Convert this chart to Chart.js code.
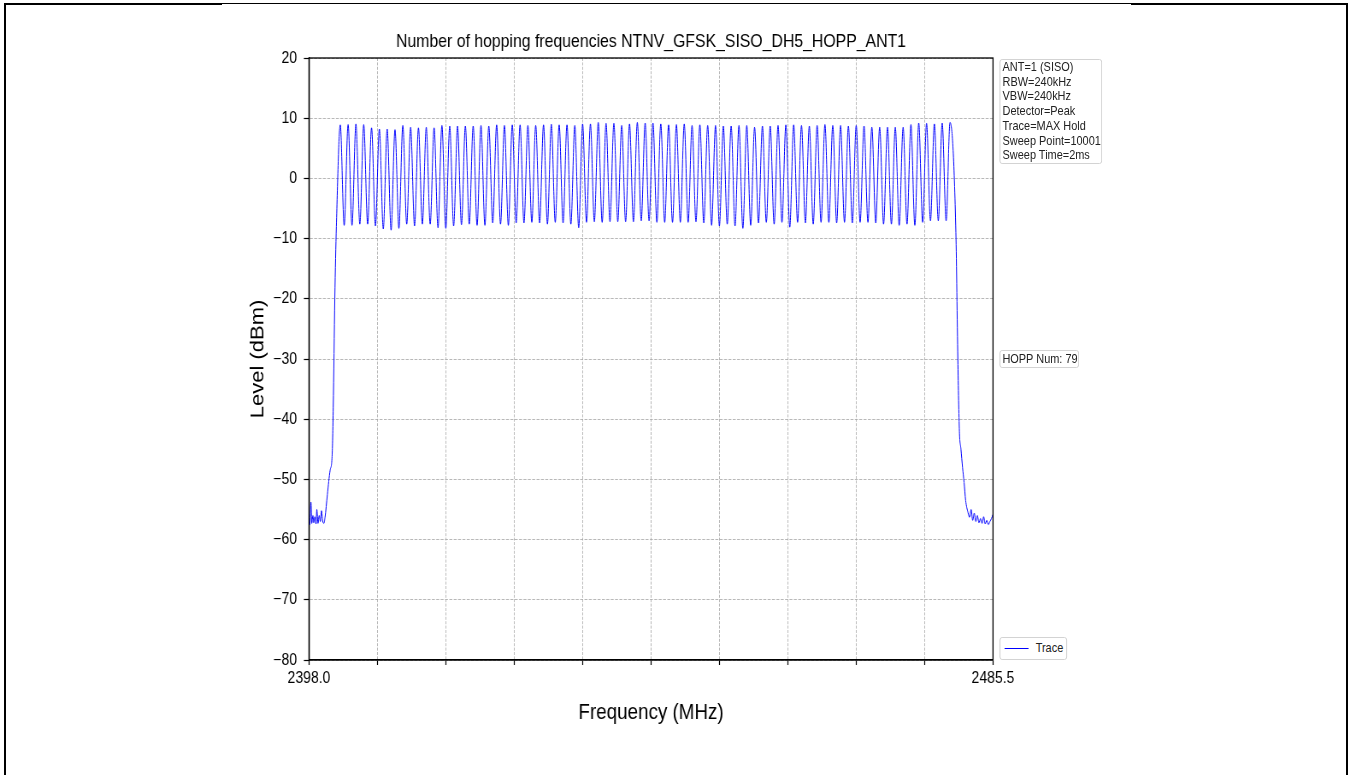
<!DOCTYPE html>
<html>
<head>
<meta charset="utf-8">
<script src="https://cdn.jsdelivr.net/npm/chart.js@4.4.1/dist/chart.umd.min.js"></script>
<style>
  html, body { margin: 0; padding: 0; background: #fff; overflow: hidden; }
  body { width: 1351px; height: 775px; position: relative; font-family: "Liberation Sans", Arial, sans-serif; }
  .rule { position: absolute; background: #000; }
  /* the original picture is squeezed sideways, so the chart is drawn wide and scaled in x */
  #wrap { position: absolute; left: 0; top: 0; width: 1580px; height: 775px; transform: scaleX(0.855); transform-origin: 0 0; }
  #c { position: absolute; left: 0; top: 0; }
  .box { position: absolute; background: #fff; border: 1px solid #cfcfcf; border-radius: 3px; font-size: 12.8px; color: #222; box-sizing: border-box; }
  #info { left: 1168.8px; top: 59px; width: 120px; height: 105px; padding-left: 2.8px; line-height: 14.7px; }
  #hopp { left: 1168.8px; top: 350px; width: 93px; height: 18.3px; padding-left: 2.6px; line-height: 16.3px; }
  #legend { left: 1168.8px; top: 637.3px; width: 79.5px; height: 22.7px; }
  #legend .swatch { position: absolute; left: 5.5px; top: 9.6px; width: 27.3px; height: 1.6px; background: #0000ff; }
  #legend .lbl { position: absolute; left: 41.5px; top: 2px; line-height: 16.3px; }
</style>
</head>
<body>
<div class="rule" style="left:4px;top:2.7px;width:218px;height:2px"></div>
<div class="rule" style="left:222px;top:3.3px;width:909px;height:1px"></div>
<div class="rule" style="left:1131px;top:2.7px;width:217px;height:2px"></div>
<div class="rule" style="left:4px;top:2.7px;width:2.4px;height:773px"></div>
<div class="rule" style="left:1346px;top:2.7px;width:2.4px;height:773px"></div>

<div id="wrap">
  <canvas id="c" width="1580" height="775"></canvas>
  <div class="box" id="info"></div>
  <div class="box" id="hopp"></div>
  <div class="box" id="legend"><span class="swatch"></span><span class="lbl"></span></div>
</div>

<script>
// 
// Chart data
// 
const chartTitle = 'Number of hopping frequencies NTNV_GFSK_SISO_DH5_HOPP_ANT1';
const xTitle = 'Frequency (MHz)';
const yTitle = 'Level (dBm)';
const traceName = 'Trace';
const infoLines = ['ANT=1 (SISO)', 'RBW=240kHz', 'VBW=240kHz', 'Detector=Peak', 'Trace=MAX Hold', 'Sweep Point=10001', 'Sweep Time=2ms'];
const hoppText = 'HOPP Num: 79';

const xMin = 2398.0;
const xMax = 2485.5;
const xTickValues = [2398.0, 2406.75, 2415.5, 2424.25, 2433.0, 2441.75, 2450.5, 2459.25, 2468.0, 2476.75, 2485.5];
const xTickLabels = ['2398.0', '', '', '', '', '', '', '', '', '', '2485.5'];
const yMin = -80;
const yMax = 20;
const yStep = 10;

// noise floor and rising edge below the first channel
const leftFreq = [2398.0, 2398.1, 2398.25, 2398.35, 2398.5, 2398.6, 2398.75, 2398.9, 2399.0, 2399.15, 2399.3, 2399.45, 2399.6, 2399.75, 2399.9, 2400.05, 2400.35, 2400.7, 2400.95, 2401.1, 2401.3, 2401.5];
const leftLevel = [-56.8, -57.5, -53.8, -57.3, -56.0, -57.2, -56.2, -57.4, -55.0, -57.3, -56.0, -57.0, -55.2, -56.9, -57.3, -56.3, -52.5, -48.5, -46.2, -38.0, -20.0, -8.0];

// 79 hopping channels, 1 MHz apart
const channelMHz = Array.from({ length: 79 }, (_, k) => 2402 + k);
const peakLevels = [
  8.9, 8.95, 9.05, 8.95, 8.4, 8.2, 8.2, 8.1, 8.8, 8.5,
  8.4, 8.5, 8.4, 8.8, 8.7, 8.7, 8.7, 8.7, 8.8, 8.7,
  8.9, 8.8, 8.9, 8.9, 8.8, 8.8, 8.9, 9.0, 8.9, 8.9,
  8.8, 9.05, 9.05, 9.3, 9.15, 9.15, 8.8, 9.05, 9.3, 9.2,
  9.2, 9.05, 8.9, 8.95, 9.05, 8.8, 8.9, 8.8, 8.8, 8.7,
  8.7, 8.8, 8.8, 8.5, 8.7, 8.7, 8.8, 8.9, 8.9, 8.8,
  8.7, 8.8, 8.95, 8.8, 8.8, 8.7, 8.8, 8.7, 8.5, 8.5,
  8.5, 8.5, 8.5, 8.95, 9.2, 9.15, 9.05, 9.2, 9.3
];
// minimum between channel k and k+1
const dipLevels = [
  -7.8, -7.8, -7.6, -7.6, -7.9, -8.4, -8.6, -8.3, -7.6, -7.9,
  -7.6, -7.6, -8.2, -8.3, -7.9, -7.7, -7.6, -7.8, -7.8, -7.4,
  -7.6, -7.8, -7.4, -7.4, -7.3, -7.4, -7.6, -7.3, -7.4, -7.6,
  -8.2, -7.3, -7.2, -7.3, -7.2, -7.2, -7.2, -7.2, -7.05,
  -7.05, -7.3, -7.3, -7.3, -7.3, -7.3, -7.2, -7.4, -7.8, -7.9,
  -7.6, -7.9, -8.3, -7.8, -7.4, -7.3, -7.6, -7.3, -8.1, -7.3,
  -7.4, -7.6, -7.3, -7.3, -7.4, -7.3, -7.4, -7.3, -7.3, -7.4,
  -7.6, -7.6, -7.8, -7.6, -7.8, -7.3, -7.05, -7.05, -7.05
];

// falling edge and noise floor above the last channel
const rightFreq = [2480.75, 2481.0, 2481.2, 2481.4, 2481.6, 2481.8, 2482.0, 2482.3, 2482.5, 2482.7, 2482.9, 2483.1, 2483.3, 2483.5, 2483.7, 2483.9, 2484.1, 2484.3, 2484.5, 2484.7, 2484.9, 2485.1, 2485.3, 2485.5];
const rightLevel = [-9.0, -30.0, -42.0, -45.0, -48.0, -50.5, -53.5, -55.5, -56.3, -55.0, -56.8, -55.6, -57.0, -56.0, -57.2, -56.5, -57.3, -56.2, -57.4, -56.8, -57.5, -57.0, -56.5, -55.8];

// 
// Build the trace
// 
const tracePoints = [];
leftFreq.forEach((f, i) => tracePoints.push({ x: f, y: leftLevel[i] }));
channelMHz.forEach((f, i) => {
  tracePoints.push({ x: f, y: peakLevels[i] });
  if (i < dipLevels.length) tracePoints.push({ x: f + 0.5, y: dipLevels[i] });
});
rightFreq.forEach((f, i) => tracePoints.push({ x: f, y: rightLevel[i] }));

document.getElementById('info').innerHTML = infoLines.join('<br>');
document.getElementById('hopp').textContent = hoppText;
document.querySelector('#legend .lbl').textContent = traceName;

const fontFamily = '"Liberation Sans", Arial, sans-serif';

// black box round the plot area, drawn over the trace
const framePlugin = {
  id: 'frame',
  afterDatasetsDraw(chart) {
    const { ctx, chartArea: a } = chart;
    ctx.save();
    ctx.strokeStyle = '#000';
    ctx.lineWidth = 1.3;
    ctx.strokeRect(a.left, a.top, a.right - a.left, a.bottom - a.top);
    ctx.restore();
  }
};

const ctx = document.getElementById('c').getContext('2d');
new Chart(ctx, {
  type: 'line',
  data: {
    datasets: [{
      label: traceName,
      data: tracePoints,
      borderColor: '#0000ff',
      borderWidth: 1,
      pointRadius: 0,
      fill: false,
      cubicInterpolationMode: 'monotone'
    }]
  },
  options: {
    responsive: false,
    animation: false,
    devicePixelRatio: 1,
    events: [],
    layout: { padding: { left: 285, right: 418.6, top: 0, bottom: 44.8 } },
    plugins: {
      legend: { display: false },
      tooltip: { enabled: false },
      title: {
        display: true,
        text: chartTitle,
        fullSize: false,
        color: '#000',
        font: { family: fontFamily, size: 18.5, weight: 'normal' },
        padding: { top: 30.4, bottom: 5.4 }
      }
    },
    scales: {
      x: {
        type: 'linear',
        min: xMin,
        max: xMax,
        afterBuildTicks: scale => { scale.ticks = xTickValues.map(v => ({ value: v })); },
        afterFit: scale => { scale.height = 70.2; },
        ticks: {
          autoSkip: false,
          maxRotation: 0,
          padding: 4,
          color: '#000',
          font: { family: fontFamily, size: 16.4 },
          callback: (v, i) => xTickLabels[i]
        },
        grid: { color: '#a6a6a6', lineWidth: 0.8, tickLength: 5, tickColor: '#000', tickWidth: 1.2, tickBorderDash: [] },
        border: { display: true, color: '#000', width: 1.3, dash: [3, 1.4] },
        title: { display: true, text: xTitle, color: '#000', font: { family: fontFamily, size: 22 } }
      },
      y: {
        min: yMin,
        max: yMax,
        afterFit: scale => { scale.width = 76.4; },
        ticks: {
          stepSize: yStep,
          padding: 8,
          color: '#000',
          font: { family: fontFamily, size: 16.4 },
          callback: v => String(v).replace('-', '\u2212')
        },
        grid: { color: '#a6a6a6', lineWidth: 0.8, tickLength: 6, tickColor: '#000', tickWidth: 1.2, tickBorderDash: [] },
        border: { display: true, color: '#000', width: 1.3, dash: [3.5, 1.6] },
        title: { display: true, text: yTitle, color: '#000', font: { family: fontFamily, size: 22 } }
      }
    }
  },
  plugins: [framePlugin]
});
</script>
</body>
</html>
